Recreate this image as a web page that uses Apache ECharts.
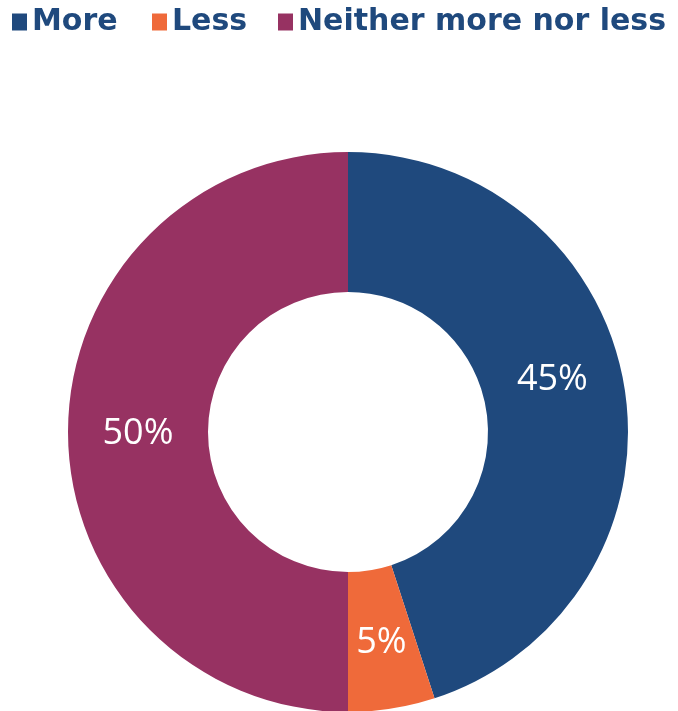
<!DOCTYPE html>
<html><head><meta charset="utf-8">
<script src="https://cdn.jsdelivr.net/npm/echarts@6/dist/echarts.min.js"></script>
<style>html,body{margin:0;padding:0;background:#fff}#c{width:678px;height:711px}</style>
</head><body><div id="c"></div>
<script>
const categories = ['More', 'Less', 'Neither more nor less'];
const values = [45, 5, 50];
const colors = ['#1F497D', '#EF6A3A', '#973262'];
const legendLefts = [12, 152, 278];
const labelOffsets = [[-6, -19], [0, 0], [3, 2]];

const chart = echarts.init(document.getElementById('c'));
const legends = categories.map((name, i) => ({
  data: [name],
  left: legendLefts[i],
  top: 7,
  padding: 0,
  icon: 'rect',
  itemWidth: 15,
  itemHeight: 17,
  selectedMode: false,
  textStyle: {color: '#1F497D', fontSize: 30, fontWeight: 'bold', fontFamily: 'DejaVu Sans'}
}));
chart.setOption({
  animation: false,
  legend: legends,
  series: [{
    type: 'pie',
    center: [348, 432],
    radius: [140, 280],
    startAngle: 90,
    clockwise: true,
    label: {show: true, position: 'inside', formatter: '{c}%', color: '#fff', fontSize: 36, fontFamily: 'Open Sans'},
    labelLine: {show: false},
    emphasis: {disabled: true},
    data: categories.map((n, i) => ({name: n, value: values[i], itemStyle: {color: colors[i]}, label: {offset: labelOffsets[i]}}))
  }]
});
</script></body></html>
